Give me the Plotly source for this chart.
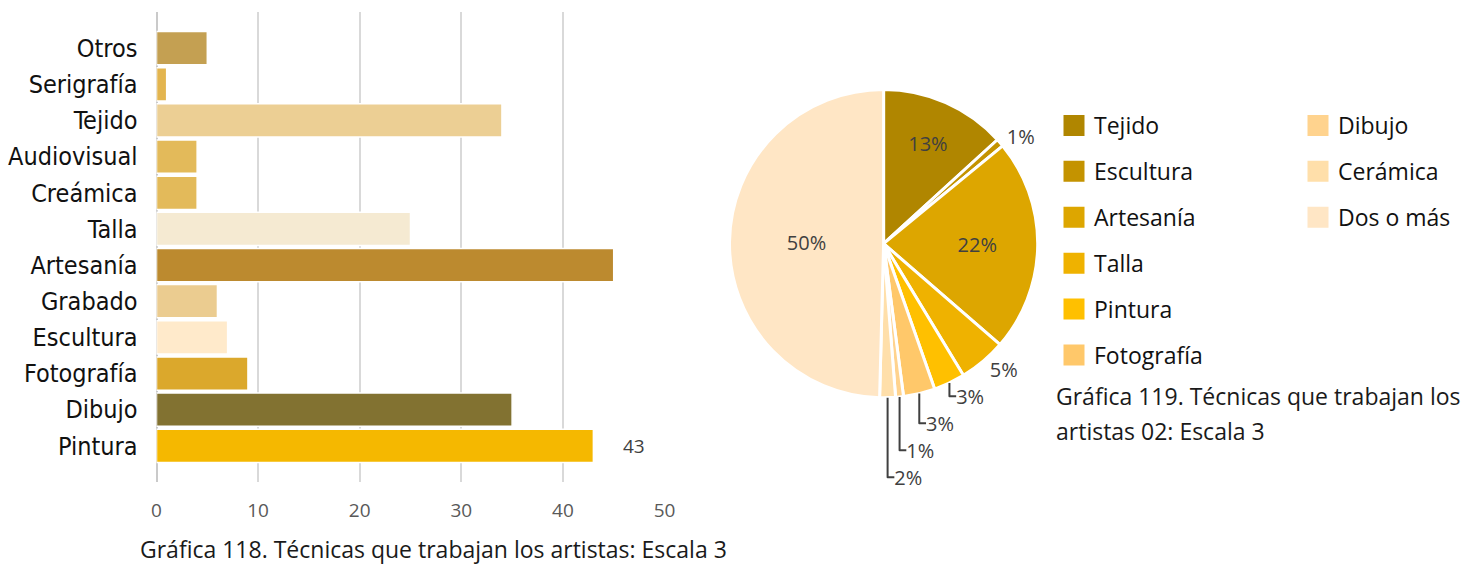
import plotly.graph_objects as go

W, H = 1481, 566

# ---------------- data ----------------
bar_categories = ["Otros", "Serigrafía", "Tejido", "Audiovisual", "Creámica", "Talla",
                  "Artesanía", "Grabado", "Escultura", "Fotografía", "Dibujo", "Pintura"]
bar_values = [5, 1, 34, 4, 4, 25, 45, 6, 7, 9, 35, 43]
bar_colors = ["#C4A052", "#E3B54F", "#ECCF94", "#E3BA5A", "#E3BA5A", "#F5EAD2",
              "#BC8A2F", "#EBCC90", "#FFEACB", "#DBA82C", "#827231", "#F5B800"]
x_tick_values = [0, 10, 20, 30, 40, 50]
labelled_bar = "Pintura"

pie_labels = ["Tejido", "Escultura", "Artesanía", "Talla", "Pintura", "Fotografía",
              "Dibujo", "Cerámica", "Dos o más"]
pie_values = [16, 1, 27, 6, 4, 4, 1, 2, 60]
pie_colors = ["#B08600", "#C49300", "#DDA600", "#EFB200", "#FFC000", "#FFC86A",
              "#FFD38E", "#FFDFAA", "#FFE6C5"]
pie_text_positions = ["inside", "outside", "inside", "outside", "outside", "outside",
                      "outside", "outside", "inside"]
legend_col1_count = 6

caption_118 = "Gráfica 118. Técnicas que trabajan los artistas: Escala 3"
caption_119 = ["Gráfica 119. Técnicas que trabajan los", "artistas 02: Escala 3"]

# ---------------- styling ----------------
CAT_FONT = "Liberation Sans Narrow, DejaVu Sans Condensed, Roboto, sans-serif"
TXT_FONT = "Open Sans, Noto Sans, sans-serif"

fig = go.Figure()

fig.add_trace(go.Bar(
    y=bar_categories, x=bar_values, orientation="h",
    marker=dict(color=bar_colors, line=dict(color="white", width=1.5)),
    showlegend=False, hoverinfo="x+y",
))

fig.add_trace(go.Pie(
    labels=pie_labels, values=pie_values, sort=False,
    direction="clockwise", rotation=0,
    marker=dict(colors=pie_colors, line=dict(color="white", width=3)),
    texttemplate="%{percent:.0%}", textposition=pie_text_positions,
    insidetextorientation="horizontal",
    textfont=dict(family=TXT_FONT, size=20, color="#404040"),
    insidetextfont=dict(family=TXT_FONT, size=20, color="#404040"),
    outsidetextfont=dict(family=TXT_FONT, size=20, color="#404040"),
    showlegend=False, automargin=False,
    domain=dict(x=[729.5 / W, 1037.7 / W], y=[1 - 398 / H, 1 - 89.3 / H]),
))

for i, (lab, col) in enumerate(zip(pie_labels, pie_colors)):
    fig.add_trace(go.Scatter(
        x=[None], y=[None], mode="markers", name=lab,
        marker=dict(symbol="square", size=16, color=col, line=dict(color=col, width=5)),
        legend="legend" if i < legend_col1_count else "legend2",
        legendgroup=lab, hoverinfo="skip",
    ))

legend_common = dict(
    xanchor="left", yanchor="top",
    font=dict(family=TXT_FONT, size=23, color="#111111"),
    tracegroupgap=13, traceorder="grouped",
    bgcolor="rgba(0,0,0,0)", borderwidth=0,
)

fig.update_layout(
    width=W, height=H,
    margin=dict(l=0, r=0, t=0, b=0, autoexpand=False),
    paper_bgcolor="white", plot_bgcolor="white",
    bargap=0.08,
    xaxis=dict(
        domain=[156.5 / W, 664.5 / W], range=[0, 50], tickvals=x_tick_values,
        showgrid=True, gridcolor="#D9D9D9", gridwidth=2,
        zeroline=True, zerolinecolor="#CACACA", zerolinewidth=2,
        showline=False, ticks="", automargin=False,
        tickfont=dict(family=TXT_FONT, size=19, color="#595959"),
        ticklabelstandoff=15, fixedrange=True,
    ),
    yaxis=dict(
        domain=[1 - 482 / H, 1 - 12 / H], type="category",
        categoryorder="array", categoryarray=bar_categories,
        range=[len(bar_categories), -1],
        showgrid=False, zeroline=False, showline=False, ticks="", automargin=False,
        tickfont=dict(family=CAT_FONT, size=25, color="#111111"),
        ticklabelstandoff=18, fixedrange=True,
    ),
    legend=dict(x=1054 / W, y=1 - 104 / H, **legend_common),
    legend2=dict(x=1298 / W, y=1 - 104 / H, **legend_common),
)

idx = bar_categories.index(labelled_bar)
fig.add_annotation(
    x=bar_values[idx], y=labelled_bar, xref="x", yref="y",
    text=str(bar_values[idx]), showarrow=False, xanchor="left", xshift=28,
    font=dict(family=TXT_FONT, size=19, color="#404040"),
)

fig.add_annotation(
    x=138 / W, y=1 - 549 / H, xref="paper", yref="paper", xanchor="left", yanchor="middle",
    text=caption_118, showarrow=False,
    font=dict(family=TXT_FONT, size=23, color="#1A1A1A"),
)
for k, line in enumerate(caption_119):
    fig.add_annotation(
        x=1054 / W, y=1 - (396 + 35 * k) / H, xref="paper", yref="paper",
        xanchor="left", yanchor="middle",
        text=line, showarrow=False,
        font=dict(family=TXT_FONT, size=23, color="#1A1A1A"),
    )

fig.write_html("out.html", config={"displayModeBar": False},
               post_script="document.body.style.margin='0px';")
